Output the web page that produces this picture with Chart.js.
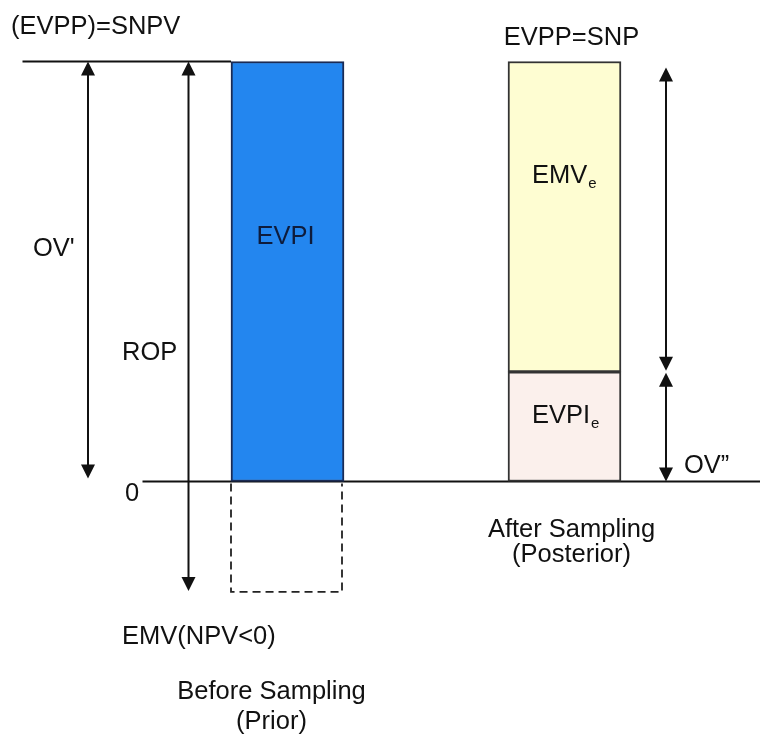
<!DOCTYPE html>
<html>
<head>
<meta charset="utf-8">
<script src="https://cdn.jsdelivr.net/npm/chart.js@4.4.1/dist/chart.umd.min.js"></script>
<style>
  html, body { margin: 0; padding: 0; background: #fff; }
  canvas { display: block; }
</style>
</head>
<body>
<canvas id="chart" width="760" height="735"></canvas>
<script>
// categories: before / after sampling
const categories = ['Before Sampling', 'After Sampling']
const subtitles = ['(Prior)', '(Posterior)']

// values, scaled so that SNPV = 100
const snpv = 100
const evpi = [[0, 100], null]
const emvE = [null, [26.1, 100]]
const evpiE = [null, [0, 26.1]]
const emvNeg = [-26.3, null] // EMV(NPV<0), dashed box under the prior bar

const FONT = '"Liberation Sans", Arial, sans-serif'
const BAR_W = 113

function arrowHead (ctx, x, y, dir) {
  // dir: -1 points up, 1 points down
  ctx.beginPath()
  ctx.moveTo(x, y)
  ctx.lineTo(x - 7, y - dir * 14)
  ctx.lineTo(x + 7, y - dir * 14)
  ctx.closePath()
  ctx.fill()
}

function vArrow (ctx, x, yTop, yBottom) {
  ctx.beginPath()
  ctx.moveTo(x, yTop + 10)
  ctx.lineTo(x, yBottom - 10)
  ctx.stroke()
  arrowHead(ctx, x, yTop, -1)
  arrowHead(ctx, x, yBottom, 1)
}

function text (ctx, str, x, y, align, sub) {
  ctx.font = '25.5px ' + FONT
  ctx.textAlign = align || 'left'
  ctx.textBaseline = 'middle'
  ctx.fillText(str, x, y)
  if (sub) {
    const w = ctx.measureText(str).width
    ctx.font = '15px ' + FONT
    ctx.textAlign = 'left'
    ctx.fillText(sub, x + w + 1, y + 8)
  }
}

const diagram = {
  id: 'diagram',
  beforeDatasetsDraw (chart) {
    const { ctx, scales: { x, y } } = chart
    const x0 = x.getPixelForValue(0)
    ctx.save()
    ctx.strokeStyle = '#111'
    // EVPP = SNPV level
    ctx.lineWidth = 2.2
    ctx.beginPath()
    ctx.moveTo(x0 - 265, y.getPixelForValue(snpv))
    ctx.lineTo(x0 - BAR_W / 2, y.getPixelForValue(snpv))
    ctx.stroke()
    // zero line
    ctx.lineWidth = 2
    ctx.beginPath()
    ctx.moveTo(x0 - 145, y.getPixelForValue(0))
    ctx.lineTo(chart.width, y.getPixelForValue(0))
    ctx.stroke()
    ctx.restore()
  },
  afterDatasetsDraw (chart) {
    const { ctx, scales: { x, y } } = chart
    const x0 = x.getPixelForValue(0)
    const x1 = x.getPixelForValue(1)
    const yTop = y.getPixelForValue(snpv)
    const yZero = y.getPixelForValue(0)
    const yNeg = y.getPixelForValue(emvNeg[0])
    const ySplit = y.getPixelForValue(evpiE[1][1])
    ctx.save()

    // dashed EMV(NPV<0) box
    ctx.strokeStyle = '#222'
    ctx.lineWidth = 1.8
    ctx.setLineDash([8, 5])
    ctx.beginPath()
    ctx.moveTo(x0 - BAR_W / 2, yZero + 2)
    ctx.lineTo(x0 - BAR_W / 2, yNeg)
    ctx.lineTo(x0 + BAR_W / 2 - 2, yNeg)
    ctx.lineTo(x0 + BAR_W / 2 - 2, yZero + 2)
    ctx.stroke()
    ctx.setLineDash([])

    // arrows
    ctx.strokeStyle = '#111'
    ctx.fillStyle = '#111'
    ctx.lineWidth = 2
    vArrow(ctx, x0 - 199.5, yTop, yZero - 3)
    vArrow(ctx, x0 - 99, yTop, yNeg - 1)
    vArrow(ctx, x1 + 101.5, yTop + 6, ySplit - 1)
    vArrow(ctx, x1 + 101.5, ySplit + 1, yZero)

    // labels
    ctx.fillStyle = '#111'
    text(ctx, '(EVPP)=SNPV', 11, 27)
    text(ctx, 'EVPP=SNP', x1 + 7, 38, 'center')
    text(ctx, 'OV\'', 33, 249)
    text(ctx, 'ROP', 122, 353)
    text(ctx, '0', 125, 494)
    text(ctx, 'EMV(NPV<0)', 122, 637)
    text(ctx, categories[0], x0 - 16, 692, 'center')
    text(ctx, subtitles[0], x0 - 16, 722, 'center')
    text(ctx, categories[1], x1 + 7, 530, 'center')
    text(ctx, subtitles[1], x1 + 7, 555, 'center')
    text(ctx, 'OV\u201D', 684, 466)
    text(ctx, 'EMV', 532, 176, 'left', 'e')
    text(ctx, 'EVPI', 532, 416, 'left', 'e')
    ctx.fillStyle = '#0e1c3c'
    text(ctx, 'EVPI', x0 - 2, 237, 'center')
    ctx.restore()
  }
}

new Chart(document.getElementById('chart'), {
  type: 'bar',
  data: {
    labels: categories,
    datasets: [
      { label: 'EVPI', data: evpi, backgroundColor: '#2386ef', borderColor: '#1a2b55' },
      { label: 'EMVe', data: emvE, backgroundColor: '#fefdd2', borderColor: '#333' },
      { label: 'EVPIe', data: evpiE, backgroundColor: '#fbf0ec', borderColor: '#333' }
    ]
  },
  options: {
    responsive: false,
    animation: false,
    layout: { padding: { left: 149, right: 57, top: 0, bottom: 0 } },
    datasets: {
      bar: { grouped: false, barThickness: BAR_W, borderWidth: 2, borderSkipped: false }
    },
    scales: {
      x: { type: 'category', offset: true, display: false },
      y: { min: -60.36, max: 114.64, display: false }
    },
    plugins: { legend: { display: false }, tooltip: { enabled: false } }
  },
  plugins: [diagram]
})
</script>
</body>
</html>
